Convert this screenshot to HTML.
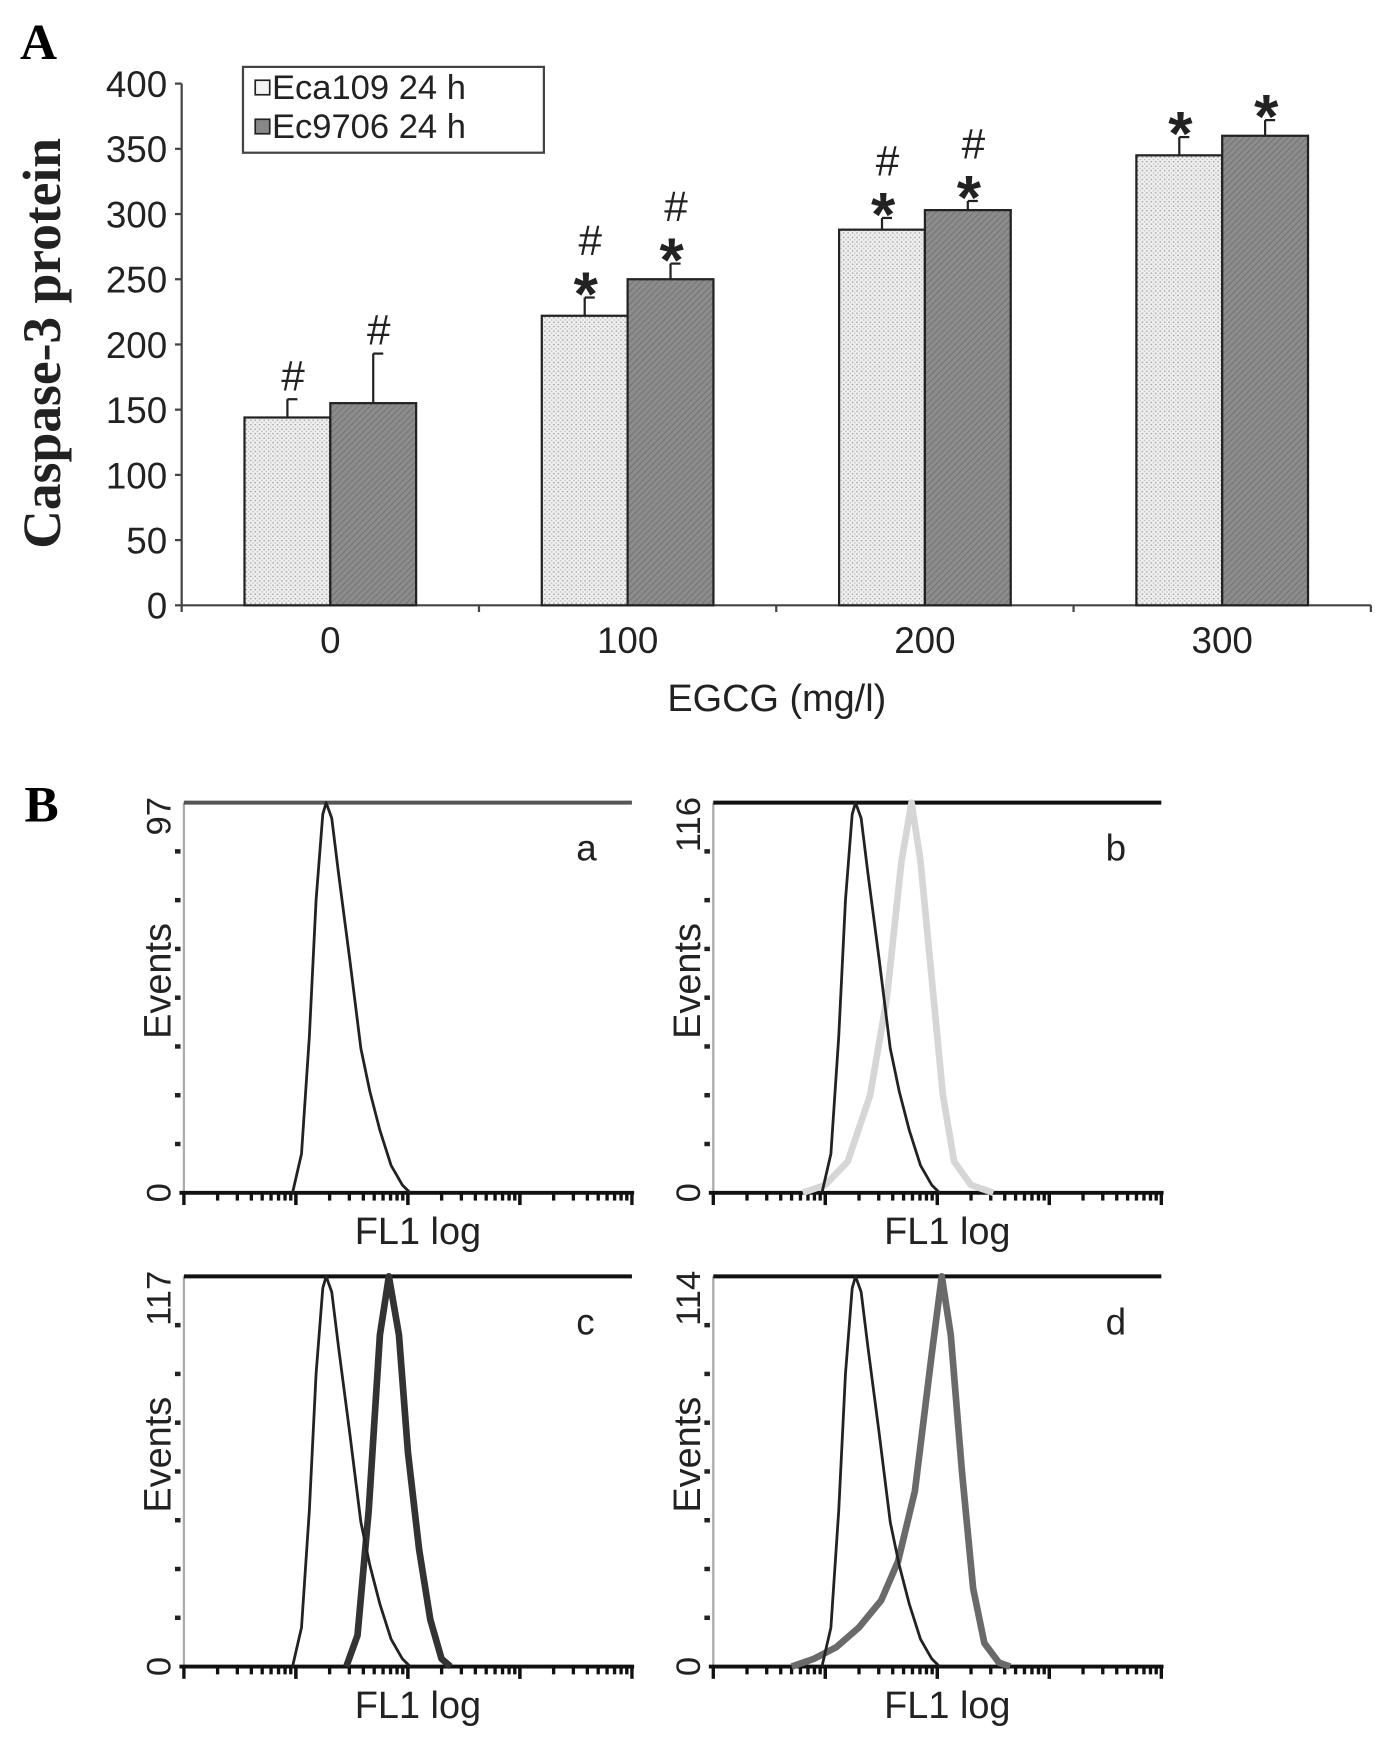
<!DOCTYPE html>
<html><head><meta charset="utf-8"><style>
html,body{margin:0;padding:0;background:#fff;}
svg{display:block;}
text{font-family:"Liberation Sans",Arial,sans-serif;}
.serif{font-family:"Liberation Serif","Times New Roman",serif;font-weight:bold;}
</style></head><body>
<svg id="fig" width="1382" height="1739" viewBox="0 0 1240 1560" preserveAspectRatio="none" xmlns="http://www.w3.org/2000/svg">
<defs>
<pattern id="dots" width="4" height="4" patternUnits="userSpaceOnUse"><rect width="4" height="4" fill="#efefef"/><circle cx="1" cy="1" r="0.7" fill="#999"/><circle cx="3" cy="3" r="0.7" fill="#bbb"/></pattern>
<pattern id="hatch" width="4" height="4" patternUnits="userSpaceOnUse" patternTransform="rotate(45)"><rect width="4" height="4" fill="#8c8c8c"/><line x1="0" y1="0" x2="0" y2="4" stroke="#6e6e6e" stroke-width="1.5"/></pattern>
</defs>
<text class="serif" x="18" y="53" font-size="46">A</text>
<text class="serif" x="22" y="737" font-size="46">B</text>
<g id="chartA"></g>
<g id="chartB"></g>
</svg>
<script>
// ---------- Panel A data ----------
const categories = ["0","100","200","300"];
const seriesNames = ["Eca109 24 h","Ec9706 24 h"];
const eca109 = [144, 222, 288, 345];
const ec9706 = [155, 250, 303, 360];
const eca109Err = [14, 14, 9, 14];
const ec9706Err = [38, 12, 7, 12];
const eca109Marks = ["#", "*#", "*#", "*"];
const ec9706Marks = ["#", "*#", "*#", "*"];
const yTicks = [0,50,100,150,200,250,300,350,400];

// ---------- Panel B data (x = log decade 0..4, y = % of max) ----------
const ctrlX = [0.97,1.05,1.12,1.18,1.24,1.27,1.32,1.38,1.48,1.58,1.66,1.75,1.85,1.95,2.02];
const ctrlY = [0,10,40,75,97,100,96,82,60,37,26,16,7,2,0];
const bX = [0.8,1.0,1.2,1.4,1.55,1.68,1.77,1.85,1.95,2.05,2.15,2.3,2.5];
const bY = [0,2,8,25,50,85,100,85,55,25,8,2,0];
const cX = [1.45,1.55,1.65,1.75,1.83,1.92,2.0,2.1,2.2,2.3,2.38];
const cY = [0,8,40,85,100,85,55,30,12,2,0];
const dX = [0.7,0.9,1.1,1.3,1.5,1.65,1.8,1.95,2.04,2.12,2.22,2.32,2.42,2.55,2.65];
const dY = [0,2,5,10,17,27,45,80,100,85,50,20,6,1,0];
const panelMax = ["97","116","117","114"];
const panelLetters = ["a","b","c","d"];

const NS="http://www.w3.org/2000/svg";
function mk(tag, attrs, parent, txt){const e=document.createElementNS(NS,tag);for(const k in attrs)e.setAttribute(k,attrs[k]);if(txt!==undefined)e.textContent=txt;parent.appendChild(e);return e;}

// ---------- Panel A ----------
(function(){
  const g=document.getElementById('chartA');
  const x0=163,x1=1230,yb=543,yt=75;
  const y=v=>yb-(v/400)*(yb-yt);
  const gw=(x1-x0)/categories.length, bw=77;
  let ax=mk('line',{x1:x0,y1:yt,x2:x0,y2:yb,stroke:'#444','stroke-width':2},g);
  
  
  let xa=mk('line',{x1:x0,y1:yb,x2:x1,y2:yb,stroke:'#444','stroke-width':2},g);
  
  
  yTicks.forEach(t=>{
    mk('line',{x1:x0-6,y1:y(t),x2:x0,y2:y(t),stroke:'#444','stroke-width':2},g);
    const tl=mk('text',{x:x0-13,y:y(t)+12,'font-size':33,'text-anchor':'end',fill:'#222'},g,t);
    
    
  });
  for(let i=0;i<=categories.length;i++){mk('line',{x1:x0+i*gw,y1:yb,x2:x0+i*gw,y2:yb+6,stroke:'#444','stroke-width':2},g);}
  categories.forEach((c,i)=>{
    const cx=x0+gw*(i+0.5);
    const tl=mk('text',{x:cx,y:586,'font-size':33,'text-anchor':'middle',fill:'#222'},g,c);
    
    
    [[eca109,eca109Err,eca109Marks,'url(#dots)',-1],[ec9706,ec9706Err,ec9706Marks,'url(#hatch)',0]].forEach((s,si)=>{
      const v=s[0][i],e=s[1][i],bx=cx+s[4]*bw;
      mk('line',{x1:bx+bw/2,y1:y(v),x2:bx+bw/2,y2:y(v+e),stroke:'#222','stroke-width':2},g);
      mk('line',{x1:bx+bw/2,y1:y(v+e),x2:bx+bw/2+9,y2:y(v+e),stroke:'#222','stroke-width':2},g);
      const r=mk('rect',{x:bx,y:y(v),width:bw,height:yb-y(v),fill:s[3],stroke:'#222','stroke-width':2},g);
      
      
      const m=s[2][i];let ty=y(v+e)-8;
      if(m.includes('*')){const st=mk('text',{x:bx+bw/2+1,y:ty+24,'font-size':56,'font-weight':'bold','text-anchor':'middle',fill:'#222'},g,'*');
        
        ty-=30;}
      if(m.includes('#')){const h=mk('text',{x:bx+bw/2+5,y:ty,'font-size':38,'text-anchor':'middle',fill:'#222','font-family':'Liberation Serif, serif'},g,'#');
        
        }
    });
  });
  const xt=mk('text',{x:697,y:638,'font-size':34,'text-anchor':'middle',fill:'#222'},g,'EGCG (mg/l)');
  
  
  const yt2=mk('text',{x:0,y:0,'font-size':48,'text-anchor':'middle',fill:'#222',class:'serif',transform:'translate(54,308) rotate(-90)'},g,'Caspase-3 protein');
  
  
  const lg=mk('g',{},g);
  
  
  mk('rect',{x:218,y:60,width:270,height:77,fill:'#fff',stroke:'#444','stroke-width':2},lg);
  seriesNames.forEach((n,i)=>{
    mk('rect',{x:229,y:72+i*35,width:13,height:13,fill:i?'#888':'#f3f3f3',stroke:'#222','stroke-width':1.5},lg);
    const t=mk('text',{x:244,y:89+i*35,'font-size':31,fill:'#222'},lg,n);
    
    
  });
})();

// ---------- Panel B ----------
(function(){
  const g=document.getElementById('chartB');
  const panels=[{x:165,top:720,bot:1070},{x:640,top:720,bot:1070},{x:165,top:1145,bot:1495},{x:640,top:1145,bot:1495}];
  const overlays=[null,[bX,bY,'#d6d6d6',6],[cX,cY,'#333',6],[dX,dY,'#6a6a6a',6]];
  const dec=100.5;
  panels.forEach((p,i)=>{
    const pg=mk('g',{},g);
    
    
    const X=v=>p.x+v*dec, Y=v=>p.bot-(v/100)*(p.bot-p.top);
    mk('line',{x1:p.x,y1:p.top,x2:p.x,y2:p.bot,stroke:'#aaa','stroke-width':2},pg);
    mk('line',{x1:p.x,y1:p.top,x2:p.x+402,y2:p.top,stroke:i==0?'#555':'#111','stroke-width':3.5},pg);
    mk('line',{x1:p.x-4,y1:p.bot,x2:p.x+404,y2:p.bot,stroke:'#111','stroke-width':3.5},pg);
    for(let k=1;k<=7;k++){mk('rect',{x:p.x-8,y:p.bot-k*(p.bot-p.top)/8-2,width:5,height:4,fill:'#222'},pg);}
    for(let d=0;d<4;d++){for(let m=1;m<=10;m++){const xx=X(d+Math.log10(m));mk('line',{x1:xx,y1:p.bot,x2:xx,y2:p.bot+(m==1||m==10?11:7),stroke:'#111','stroke-width':3},pg);}}
    if(overlays[i]){const o=overlays[i];
      const pts=o[0].map((v,j)=>X(v)+','+Y(o[1][j])).join(' ');
      const pl=mk('polyline',{points:pts,fill:'none',stroke:o[2],'stroke-width':o[3],'stroke-linejoin':'round'},pg);
      
      }
    const cp=ctrlX.map((v,j)=>X(v)+','+Y(ctrlY[j])).join(' ');
    const cl=mk('polyline',{points:cp,fill:'none',stroke:'#222','stroke-width':2.5,'stroke-linejoin':'round'},pg);
    
    
    const mx=mk('text',{x:0,y:0,'font-size':31,'text-anchor':'end',fill:'#222',transform:`translate(${p.x-12},${p.top-5}) rotate(-90)`},pg,panelMax[i]);
    
    
    const z=mk('text',{x:0,y:0,'font-size':31,'text-anchor':'middle',fill:'#222',transform:`translate(${p.x-12},${p.bot}) rotate(-90)`},pg,'0');
    
    
    const ev=mk('text',{x:0,y:0,'font-size':34,'text-anchor':'middle',fill:'#222',transform:`translate(${p.x-12},${p.top+160}) rotate(-90)`},pg,'Events');
    
    
    const fl=mk('text',{x:p.x+210,y:p.bot+46,'font-size':34,'text-anchor':'middle',fill:'#222'},pg,'FL1 log');
    
    
    const lt=mk('text',{x:p.x+352,y:p.top+52,'font-size':33,fill:'#222'},pg,panelLetters[i]);
    
    
  });
})();
</script>
</body></html>
